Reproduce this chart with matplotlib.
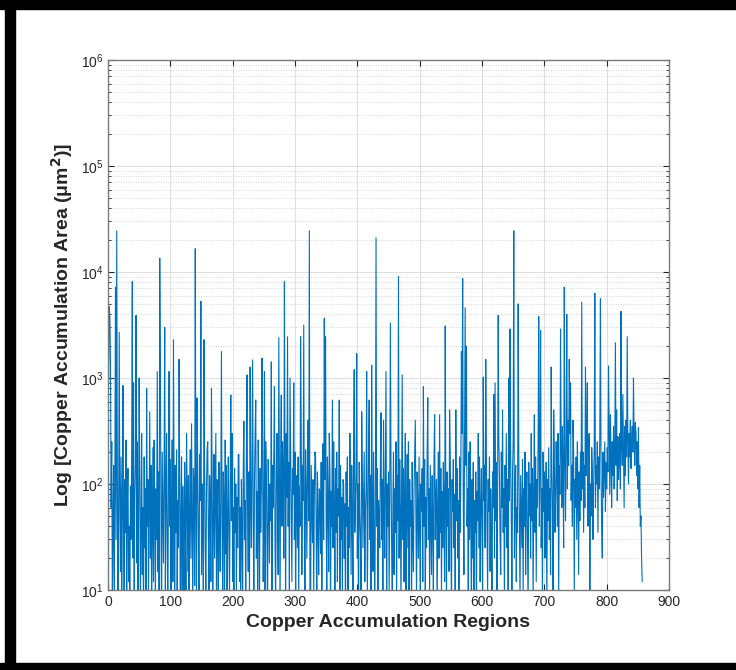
import numpy as np
import matplotlib
matplotlib.use("Agg")
import matplotlib.pyplot as plt
from matplotlib.patches import Rectangle
from matplotlib.ticker import LogLocator

plt.rcParams['font.family'] = ['Liberation Sans', 'DejaVu Sans']

# Copper accumulation area per region (um^2) (values < 10 fall below the axis)
area = [
    900, 4700, 3700, 1400, 60, 250, 8, 40, 150, 5, 90, 7200, 30, 24500, 120, 6, 45, 2700, 70, 15,
    180, 9, 55, 850, 25, 4, 110, 35, 260, 7, 65, 140, 12, 40, 5, 95, 30, 200, 8100, 20,
    900, 6, 75, 150, 3900, 18, 250, 7, 50, 1000, 120, 8, 35, 300, 14, 60, 5, 180, 25, 90,
    6, 800, 40, 110, 9, 70, 480, 20, 150, 5, 35, 220, 12, 260, 60, 7, 90, 30, 1150, 15,
    130, 8, 13500, 1400, 45, 5, 200, 60, 18, 140, 3000, 9, 80, 300, 25, 6, 110, 1150, 40, 170,
    7, 55, 260, 12, 2300, 90, 4, 150, 35, 210, 8, 70, 25, 1500, 130, 6, 45, 180, 10, 95,
    30, 7, 160, 50, 9, 300, 80, 15, 120, 5, 60, 210, 20, 370, 40, 6, 140, 90, 11, 16600,
    55, 8, 650, 120, 30, 5, 190, 70, 5300, 14, 100, 40, 6, 2300, 160, 25, 9, 85, 210, 250,
    35, 7, 120, 60, 12, 800, 140, 5, 45, 190, 20, 75, 300, 9, 110, 30, 6, 160, 55, 15,
    90, 1780, 40, 8, 130, 65, 5, 260, 22, 150, 7, 50, 180, 28, 9, 100, 690, 45, 300, 12,
    60, 5, 140, 35, 100, 8, 75, 25, 190, 190, 12, 60, 5, 110, 40, 9, 150, 390, 30, 70,
    6, 200, 1070, 45, 15, 130, 8, 1270, 60, 25, 180, 1480, 40, 7, 110, 300, 620, 20, 85, 10,
    260, 50, 6, 140, 35, 90, 1540, 200, 12, 60, 1150, 8, 250, 120, 30, 5, 170, 70, 18, 100,
    45, 1420, 9, 150, 60, 200, 830, 25, 7, 120, 300, 55, 14, 2400, 90, 6, 180, 690, 40, 250,
    110, 20, 8100, 130, 6, 300, 75, 2450, 40, 160, 9, 1000, 220, 50, 12, 140, 80, 900, 30, 200,
    7, 60, 120, 25, 180, 8, 95, 40, 2450, 300, 14, 150, 70, 3150, 35, 5, 210, 90, 20, 130,
    400, 45, 24500, 8, 6, 150, 60, 28, 110, 9, 75, 200, 180, 35, 5, 130, 50, 14, 90, 80,
    22, 160, 7, 60, 240, 30, 3650, 110, 2450, 45, 9, 180, 70, 15, 300, 130, 6, 85, 40, 620,
    25, 250, 60, 8, 140, 35, 200, 12, 90, 50, 620, 6, 150, 30, 75, 9, 110, 100, 20, 65,
    5, 130, 40, 180, 7, 60, 25, 300, 90, 14, 150, 45, 8, 210, 1200, 35, 70, 120, 1700, 20,
    100, 6, 160, 50, 30, 9, 480, 140, 25, 75, 200, 12, 55, 90, 1150, 8, 40, 180, 620, 30,
    120, 7, 1320, 60, 15, 200, 35, 5, 90, 21000, 40, 140, 9, 70, 50, 25, 160, 470, 30, 110,
    8, 400, 55, 20, 180, 1150, 6, 100, 40, 130, 9, 75, 3300, 150, 25, 5, 60, 200, 14, 90,
    35, 250, 8, 120, 45, 9100, 20, 170, 60, 7, 100, 1070, 30, 140, 12, 80, 300, 6, 50, 190,
    25, 250, 9, 110, 40, 70, 5, 160, 30, 15, 90, 200, 400, 45, 8, 130, 60, 20, 180, 35,
    7, 100, 55, 140, 12, 830, 40, 170, 6, 75, 25, 200, 650, 30, 90, 9, 150, 50, 14, 120,
    45, 8, 180, 450, 30, 70, 110, 5, 60, 200, 20, 450, 35, 140, 9, 85, 25, 160, 50, 12,
    3100, 60, 7, 130, 40, 90, 15, 500, 200, 30, 6, 110, 55, 170, 25, 80, 9, 500, 45, 140,
    20, 70, 8, 180, 35, 120, 1780, 300, 8700, 60, 14, 250, 4600, 150, 2000, 40, 90, 7, 200, 30,
    250, 50, 6, 110, 20, 160, 9, 70, 35, 130, 5, 85, 45, 300, 25, 180, 12, 60, 140, 30,
    8, 1020, 70, 150, 25, 1500, 200, 40, 9, 110, 55, 180, 15, 90, 35, 6, 130, 60, 700, 20,
    900, 45, 160, 8, 75, 3900, 250, 120, 30, 14, 200, 60, 500, 35, 90, 7, 150, 40, 300, 25,
    110, 9, 1000, 70, 2900, 180, 45, 6, 130, 250, 24500, 20, 85, 150, 12, 60, 35, 5000, 200, 40,
    8, 120, 55, 25, 170, 9, 90, 40, 200, 14, 70, 130, 30, 6, 160, 50, 100, 20, 300, 45,
    140, 7, 80, 450, 35, 180, 12, 110, 60, 250, 3800, 40, 150, 2800, 25, 90, 8, 200, 55, 130,
    20, 75, 160, 6, 110, 45, 220, 30, 90, 14, 1270, 140, 55, 9, 500, 180, 35, 70, 250, 120,
    40, 300, 8, 150, 80, 2900, 200, 60, 350, 120, 25, 7200, 180, 45, 250, 4000, 90, 400, 150, 1500,
    300, 900, 70, 150, 40, 400, 200, 9, 110, 60, 180, 30, 250, 85, 14, 130, 45, 200, 70, 5200,
    90, 200, 35, 150, 60, 1270, 120, 250, 900, 40, 180, 300, 8, 100, 50, 220, 140, 30, 90, 200,
    6300, 60, 150, 100, 250, 35, 180, 90, 300, 5600, 120, 40, 20, 200, 75, 140, 250, 55, 160, 90,
    220, 130, 1300, 300, 80, 450, 180, 60, 250, 120, 350, 90, 200, 2150, 150, 500, 70, 280, 110, 200,
    300, 90, 4250, 250, 150, 700, 200, 60, 350, 120, 400, 180, 2450, 250, 100, 300, 180, 400, 140, 250,
    350, 200, 1000, 300, 150, 380, 300, 120, 250, 90, 340, 60, 150, 40, 50, 20, 12,
]
regions = np.arange(1, len(area) + 1)

x_ticks = [0, 100, 200, 300, 400, 500, 600, 700, 800, 900]

fig = plt.figure(figsize=(7.36, 6.70), dpi=100)
fig.patch.set_facecolor('white')

# black frame (left, top, bottom) around the picture
frame_col = 'black'
fig.patches.append(Rectangle((5/736, 0), 10/736, 1, transform=fig.transFigure, color=frame_col, zorder=10))
fig.patches.append(Rectangle((0, 1 - 9/670), 1, 9/670, transform=fig.transFigure, color=frame_col, zorder=10))
fig.patches.append(Rectangle((0, 0), 1, 7/670, transform=fig.transFigure, color=frame_col, zorder=10))

ax = fig.add_axes([108/736, 80/670, 561/736, 530/670])
ax.plot(regions, area, color='#0072BD', lw=0.8)
ax.set_yscale('log')
ax.set_xlim(0, 900)
ax.set_ylim(10, 1e6)
ax.set_xticks(x_ticks)
ax.yaxis.set_major_locator(LogLocator(base=10, numticks=10))
ax.yaxis.set_minor_locator(LogLocator(base=10, subs=np.arange(2, 10), numticks=20))

ax.grid(True, which='major', color='#dedede', lw=0.7, ls='-')
ax.grid(True, which='minor', axis='y', color='#c8c8c8', lw=0.6, ls=(0, (1, 2)))
ax.set_axisbelow(True)

axcol = '#262626'
for s in ax.spines.values():
    s.set_color('#7a7a7a')
    s.set_linewidth(1.0)
ax.tick_params(which='both', direction='in', top=True, right=True, colors=axcol,
               labelsize=10, labelcolor=axcol)
ax.tick_params(which='major', length=4)
ax.tick_params(which='minor', length=2)

ax.set_xlabel('Copper Accumulation Regions', fontsize=14, fontweight='bold', color=axcol, labelpad=4)
ax.set_ylabel('Log [Copper Accumulation Area (μm$^\\mathbf{2}$)]', fontsize=14, fontweight='bold',
              color=axcol, labelpad=4)

fig.savefig('out.png', dpi=100, facecolor='white')
